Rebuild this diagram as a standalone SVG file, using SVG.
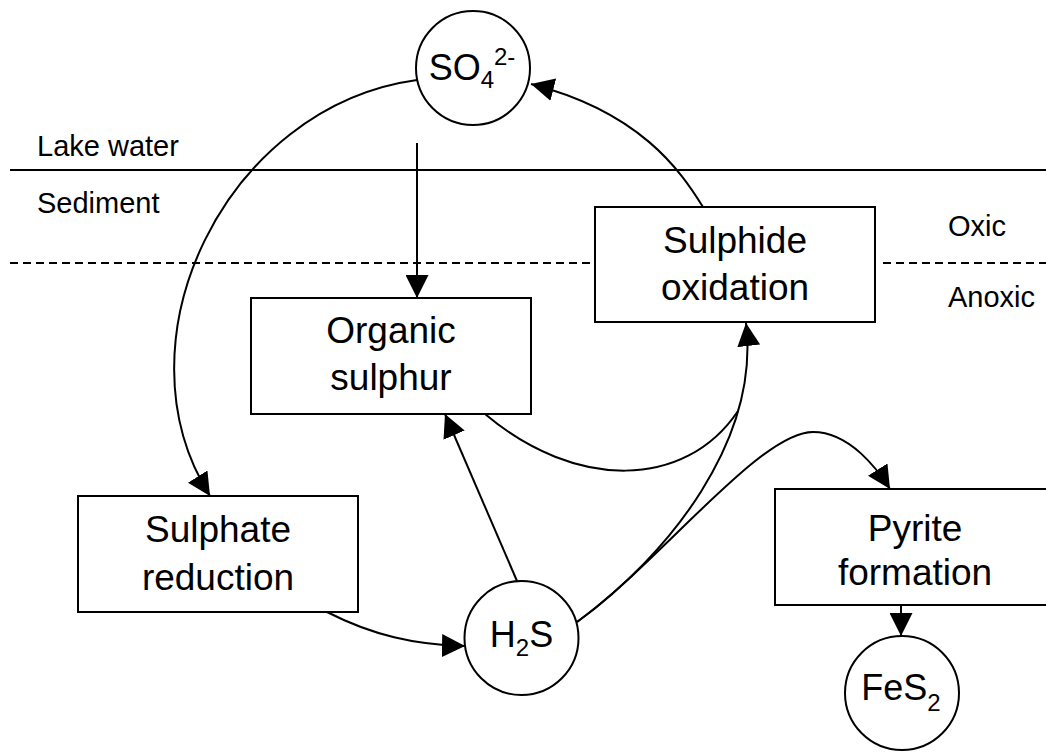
<svg xmlns="http://www.w3.org/2000/svg" width="1046" height="753" viewBox="0 0 1046 753">
<style>
.box{fill:#fff;stroke:#000;stroke-width:2}
.circ{fill:#fff;stroke:#000;stroke-width:2}
.ln{fill:none;stroke:#000;stroke-width:2}
.arr{fill:none;stroke:#000;stroke-width:2;marker-end:url(#ah)}
.t{font-family:"Liberation Sans",Arial,sans-serif;fill:#000}
.bt{font-size:37px;text-anchor:middle}
.ct{font-size:36px;text-anchor:middle}
.lb{font-size:29px}
</style>
<defs>
<marker id="ah" markerUnits="userSpaceOnUse" viewBox="0 0 23 23" refX="23" refY="11.5" markerWidth="23" markerHeight="23" orient="auto">
<path d="M0,0 L23,11.5 L0,23 z" fill="#000"/>
</marker>
</defs>
<rect width="1046" height="753" fill="#fff"/>
<g id="layers">
<line class="ln" x1="10" y1="170" x2="1046" y2="170"/>
<line class="ln" x1="10" y1="263" x2="590" y2="263" stroke-dasharray="8,5"/>
<line class="ln" x1="883" y1="263" x2="1046" y2="263" stroke-dasharray="8,5"/>
<text class="t lb" x="37" y="156">Lake water</text>
<text class="t lb" x="37" y="213">Sediment</text>
<text class="t lb" x="948" y="236">Oxic</text>
<text class="t lb" x="948" y="307">Anoxic</text>
</g>
<g id="connectors">
<path class="arr" d="M417,80 C226,106 112,341 210,496"/>
<line class="arr" x1="417" y1="143" x2="417" y2="298"/>
<path class="arr" d="M703,207 C680,170 640,112 531,84"/>
<line class="arr" x1="517" y1="581" x2="445" y2="414"/>
<path class="arr" d="M327,612 C372,635 415,645 465,646"/>
<path class="arr" d="M577,622 C669,555 760,440 746,323"/>
<path class="ln" d="M485,414 C575,490 685,490 738,411"/>
<path class="arr" d="M577,622 C660,562 760,432 813,432 C850,432 878,470 890,489"/>
<line class="arr" x1="901" y1="605" x2="901" y2="636"/>
</g>
<g id="so4">
<circle class="circ" cx="473" cy="68" r="57"/>
<text class="t ct" x="472" y="80">SO<tspan font-size="24" dy="8">4</tspan><tspan font-size="24" dy="-23">2-</tspan></text>
</g>
<g id="sulphide-oxidation">
<rect class="box" x="595" y="207" width="280" height="115"/>
<text class="t bt" x="735" y="253">Sulphide</text>
<text class="t bt" x="735" y="300">oxidation</text>
</g>
<g id="organic-sulphur">
<rect class="box" x="251" y="298" width="280" height="116"/>
<text class="t bt" x="391" y="343">Organic</text>
<text class="t bt" x="391" y="390">sulphur</text>
</g>
<g id="sulphate-reduction">
<rect class="box" x="78" y="496" width="280" height="116"/>
<text class="t bt" x="218" y="542">Sulphate</text>
<text class="t bt" x="218" y="590">reduction</text>
</g>
<g id="h2s">
<circle class="circ" cx="521.5" cy="638" r="57"/>
<text class="t ct" x="521.5" y="647">H<tspan font-size="24" dy="9">2</tspan><tspan dy="-9">S</tspan></text>
</g>
<g id="pyrite-formation">
<rect class="box" x="775" y="489" width="280" height="116"/>
<text class="t bt" x="915" y="541">Pyrite</text>
<text class="t bt" x="915" y="585">formation</text>
</g>
<g id="fes2">
<circle class="circ" cx="902" cy="693" r="57"/>
<text class="t ct" x="901" y="700">FeS<tspan font-size="24" dy="11">2</tspan></text>
</g>
</svg>
